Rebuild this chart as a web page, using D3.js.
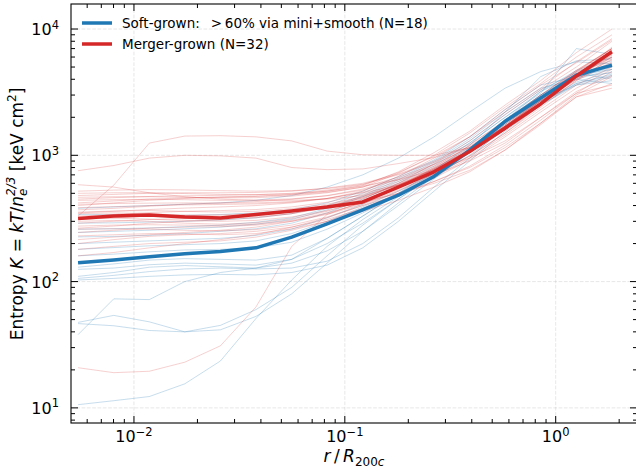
<!DOCTYPE html>
<html>
<head>
<meta charset="utf-8">
<script src="https://cdn.jsdelivr.net/npm/d3@7"></script>
<style>
  html, body { margin: 0; padding: 0; background: #fff; }
  svg { display: block; font-family: "DejaVu Sans", sans-serif; }
</style>
</head>
<body>
<svg id="chart" width="636" height="474"></svg>
<script>
// ---------------- data ----------------
const radius = [0.00543, 0.00802, 0.01183, 0.01742, 0.0257, 0.0379, 0.0560, 0.0824,
                0.1216, 0.1795, 0.2649, 0.3908, 0.5754, 0.849, 1.253, 1.849];

const softProfiles = [
  [10.6, 11.4, 12.3, 15.5, 23.5, 51, 103, 190, 310, 470, 690, 1050, 1700, 2600, 3700, 4300],
  [38, 73, 72, 100, 118, 128, 150, 220, 330, 500, 720, 1100, 1900, 3000, 4300, 5200],
  [47.5, 54, 48, 40, 45, 60, 90, 160, 280, 450, 700, 1050, 1650, 2600, 3800, 4600],
  [46.5, 44.7, 41, 40, 41.5, 53, 80, 140, 250, 420, 680, 1000, 1600, 2500, 3600, 4200],
  [106, 112, 120, 126, 128, 126, 128, 145, 200, 320, 560, 950, 1700, 2700, 4000, 4800],
  [103, 106, 110, 113, 114, 113, 118, 135, 185, 300, 520, 900, 1550, 2500, 3700, 4400],
  [110, 118, 130, 134, 131, 128, 140, 175, 250, 400, 650, 1050, 1800, 3000, 4600, 5600],
  [125, 128, 136, 140, 138, 135, 150, 200, 290, 450, 700, 1100, 1900, 3200, 4700, 6000],
  [130, 138, 148, 152, 150, 148, 162, 220, 330, 500, 760, 1200, 2200, 4200, 5600, 5800],
  [160, 165, 172, 178, 180, 185, 205, 260, 350, 480, 680, 1050, 1750, 2800, 4100, 5000],
  [180, 186, 192, 196, 200, 210, 240, 300, 390, 520, 720, 1100, 1800, 2700, 3600, 3900],
  [200, 205, 210, 215, 220, 232, 260, 320, 410, 560, 780, 1150, 1900, 3000, 4400, 5000],
  [226, 228, 232, 240, 250, 262, 290, 350, 450, 600, 820, 1250, 2000, 3100, 7000, 6300],
  [245, 250, 255, 262, 270, 285, 310, 370, 470, 620, 850, 1250, 2000, 3200, 4300, 4800],
  [260, 262, 266, 272, 280, 295, 320, 380, 480, 640, 880, 1300, 2100, 3300, 4500, 4000],
  [290, 292, 296, 300, 308, 320, 345, 400, 500, 660, 900, 1350, 2200, 3400, 4000, 3700],
  [340, 338, 335, 335, 340, 350, 370, 420, 520, 680, 920, 1400, 2300, 3600, 4200, 4500],
  [380, 390, 400, 410, 420, 440, 480, 560, 700, 950, 1400, 2200, 3400, 4600, 5500, 5300]
];

const mergerProfiles = [
  [160, 170, 185, 200, 215, 235, 270, 320, 400, 480, 620, 820, 1200, 1900, 3100, 4600],
  [180, 190, 200, 205, 210, 225, 255, 300, 380, 500, 680, 950, 1450, 2300, 3600, 5000],
  [200, 215, 228, 235, 240, 250, 270, 310, 380, 490, 660, 920, 1400, 2200, 3400, 4800],
  [215, 225, 235, 245, 255, 270, 300, 345, 420, 560, 800, 1200, 1900, 3000, 4700, 7000],
  [230, 235, 240, 238, 235, 240, 262, 300, 360, 440, 560, 740, 1100, 1800, 3000, 4200],
  [245, 255, 265, 270, 272, 280, 300, 340, 410, 530, 710, 980, 1500, 2400, 3900, 6000],
  [260, 262, 260, 255, 252, 258, 280, 325, 400, 520, 700, 990, 1500, 2500, 4200, 7200],
  [265, 275, 290, 300, 308, 320, 345, 390, 460, 580, 760, 1050, 1600, 2600, 4300, 6800],
  [275, 280, 282, 280, 278, 285, 305, 350, 420, 500, 620, 800, 1150, 1800, 2900, 3700],
  [290, 300, 310, 315, 318, 325, 345, 385, 450, 600, 860, 1300, 2100, 3300, 5000, 8000],
  [300, 305, 300, 290, 285, 292, 315, 360, 440, 560, 740, 1050, 1600, 2600, 4100, 6300],
  [310, 320, 330, 335, 338, 345, 365, 400, 470, 590, 780, 1100, 1700, 2800, 4600, 7000],
  [320, 318, 312, 305, 300, 305, 325, 365, 430, 500, 600, 760, 1100, 1750, 2900, 3400],
  [330, 580, 1250, 1420, 1430, 1400, 1300, 1080, 1010, 1000, 1000, 1150, 1800, 2900, 4600, 7000],
  [330, 340, 352, 360, 365, 372, 390, 425, 490, 600, 790, 1100, 1700, 2750, 4400, 6500],
  [345, 350, 345, 335, 330, 335, 355, 395, 460, 580, 770, 1080, 1650, 2700, 4300, 6600],
  [350, 360, 372, 382, 390, 400, 420, 455, 520, 680, 950, 1400, 2300, 3600, 5400, 8200],
  [355, 362, 365, 360, 355, 360, 378, 410, 470, 585, 770, 1060, 1600, 2600, 4000, 5800],
  [370, 380, 395, 410, 420, 430, 448, 480, 540, 650, 840, 1150, 1750, 2850, 4500, 6800],
  [385, 392, 400, 405, 408, 412, 425, 455, 510, 620, 800, 1100, 1650, 2650, 4200, 6200],
  [400, 420, 440, 455, 465, 472, 485, 510, 560, 720, 1000, 1500, 2400, 3700, 6000, 9000],
  [410, 415, 418, 420, 418, 420, 430, 455, 505, 580, 700, 900, 1250, 2000, 3200, 4300],
  [420, 435, 450, 460, 468, 475, 490, 520, 575, 740, 1050, 1550, 2500, 3900, 6500, 10000],
  [440, 445, 448, 445, 440, 442, 452, 478, 530, 640, 820, 1120, 1700, 2750, 4300, 6000],
  [450, 462, 472, 478, 482, 488, 500, 530, 585, 730, 980, 1400, 2200, 3400, 5500, 8400],
  [465, 470, 470, 465, 460, 462, 475, 505, 560, 670, 850, 1150, 1700, 2700, 4100, 5700],
  [480, 490, 500, 505, 505, 508, 520, 550, 600, 710, 900, 1220, 1850, 3000, 4700, 7000],
  [500, 505, 505, 498, 490, 488, 495, 520, 570, 640, 760, 950, 1300, 2000, 3100, 3600],
  [520, 530, 535, 532, 525, 520, 525, 545, 590, 700, 880, 1180, 1750, 2800, 4400, 6500],
  [585, 560, 505, 470, 450, 440, 440, 450, 480, 580, 780, 1100, 1700, 2600, 4000, 5500],
  [755, 830, 950, 1000, 990, 950, 800, 770, 780, 860, 960, 1150, 1700, 2700, 4200, 6000],
  [20.8, 19, 19.5, 23, 31, 63, 190, 340, 430, 560, 760, 1050, 1600, 2500, 3900, 5400]
];

const softMedian   = [141, 148, 157, 166, 173, 185, 225, 286, 369, 483, 680, 1100, 1860, 2840, 4300, 5180];
const mergerMedian = [316, 331, 337, 325, 319, 340, 362, 390, 427, 560, 740, 1070, 1640, 2550, 4250, 6600];

const seriesLabels = ["Soft-grown: \u2002>\u200960% via mini+smooth (N=18)", "Merger-grown (N=32)"];
const seriesColors = ["#1f77b4", "#d62728"];
const xTickExps = [-2, -1, 0];
const yTickExps = [1, 2, 3, 4];

// ---------------- layout ----------------
const svg = d3.select("#chart");
const L = 71, T = 4, R = 637, B = 423;
const x = d3.scaleLog().domain([0.005028, 2.43]).range([L, R]);
const y = d3.scaleLog().domain([7.59, 15780]).range([B, T]);

const defs = svg.append("defs");
defs.append("clipPath").attr("id", "plotclip")
  .append("rect").attr("x", L).attr("y", T).attr("width", R - L).attr("height", B - T);

// grid
const grid = svg.append("g");
xTickExps.forEach(e => {
  grid.append("line").attr("x1", x(Math.pow(10, e))).attr("x2", x(Math.pow(10, e)))
    .attr("y1", T).attr("y2", B)
    .attr("stroke", "#b0b0b0").attr("stroke-opacity", 0.3).attr("stroke-width", 1)
    .attr("stroke-dasharray", "3.7,1.6");
});
yTickExps.forEach(e => {
  grid.append("line").attr("y1", y(Math.pow(10, e))).attr("y2", y(Math.pow(10, e)))
    .attr("x1", L).attr("x2", R)
    .attr("stroke", "#b0b0b0").attr("stroke-opacity", 0.3).attr("stroke-width", 1)
    .attr("stroke-dasharray", "3.7,1.6");
});

// lines
const line = d3.line().x((d, i) => x(radius[i])).y(d => y(d));
const plot = svg.append("g").attr("clip-path", "url(#plotclip)");
plot.append("g").selectAll("path").data(softProfiles).join("path")
  .attr("d", line).attr("fill", "none").attr("stroke", seriesColors[0])
  .attr("stroke-opacity", 0.25).attr("stroke-width", 1);
plot.append("g").selectAll("path").data(mergerProfiles).join("path")
  .attr("d", line).attr("fill", "none").attr("stroke", seriesColors[1])
  .attr("stroke-opacity", 0.22).attr("stroke-width", 1);
plot.append("path").datum(softMedian).attr("d", line).attr("fill", "none")
  .attr("stroke", seriesColors[0]).attr("stroke-width", 3.5).attr("stroke-linejoin", "round");
plot.append("path").datum(mergerMedian).attr("d", line).attr("fill", "none")
  .attr("stroke", seriesColors[1]).attr("stroke-width", 3.5).attr("stroke-linejoin", "round");

// ticks (inward, all sides)
const ticks = svg.append("g").attr("stroke", "#000").attr("stroke-width", 1);
const xMinor = [], yMinor = [];
[-3, -2, -1, 0].forEach(e => { for (let m = 2; m <= 9; m++) { const v = m * Math.pow(10, e); if (v > x.domain()[0] && v < x.domain()[1]) xMinor.push(v); } });
[0, 1, 2, 3, 4].forEach(e => { for (let m = 2; m <= 9; m++) { const v = m * Math.pow(10, e); if (v > y.domain()[0] && v < y.domain()[1]) yMinor.push(v); } });
xTickExps.forEach(e => {
  const px = x(Math.pow(10, e));
  ticks.append("line").attr("x1", px).attr("x2", px).attr("y1", B).attr("y2", B - 7);
  ticks.append("line").attr("x1", px).attr("x2", px).attr("y1", T).attr("y2", T + 7);
});
xMinor.forEach(v => {
  const px = x(v);
  ticks.append("line").attr("x1", px).attr("x2", px).attr("y1", B).attr("y2", B - 4);
  ticks.append("line").attr("x1", px).attr("x2", px).attr("y1", T).attr("y2", T + 4);
});
yTickExps.forEach(e => {
  const py = y(Math.pow(10, e));
  ticks.append("line").attr("y1", py).attr("y2", py).attr("x1", L).attr("x2", L + 7);
  ticks.append("line").attr("y1", py).attr("y2", py).attr("x1", R).attr("x2", R - 7);
});
yMinor.forEach(v => {
  const py = y(v);
  ticks.append("line").attr("y1", py).attr("y2", py).attr("x1", L).attr("x2", L + 4);
  ticks.append("line").attr("y1", py).attr("y2", py).attr("x1", R).attr("x2", R - 4);
});

// spines
const sp = svg.append("g").attr("stroke", "#000").attr("stroke-width", 1.1).attr("fill", "none");
sp.append("rect").attr("x", L).attr("y", T).attr("width", R - L).attr("height", B - T);

// tick labels
function expLabel(sel, e) {
  sel.append("tspan").text("10");
  sel.append("tspan").attr("font-size", 11.5).attr("dy", -6.5)
    .text(e < 0 ? "\u2212" + Math.abs(e) : String(e));
}
xTickExps.forEach(e => {
  const t = svg.append("text").attr("x", x(Math.pow(10, e))).attr("y", 442)
    .attr("text-anchor", "middle").attr("font-size", 16).attr("fill", "#000");
  expLabel(t, e);
});
yTickExps.forEach(e => {
  const t = svg.append("text").attr("x", 59).attr("y", y(Math.pow(10, e)) + 6)
    .attr("text-anchor", "end").attr("font-size", 16).attr("fill", "#000");
  expLabel(t, e);
});

// axis labels
const xl = svg.append("text").attr("x", (L + R) / 2).attr("y", 462)
  .attr("text-anchor", "middle").attr("font-size", 17).attr("fill", "#000");
xl.append("tspan").attr("font-style", "italic").text("r");
xl.append("tspan").text("\u2009/\u2009");
xl.append("tspan").attr("font-style", "italic").text("R");
xl.append("tspan").attr("font-size", 12).attr("dy", 3.5).text("200");
xl.append("tspan").attr("font-size", 12).attr("font-style", "italic").text("c");

const yl = svg.append("text").attr("transform", "translate(23,214) rotate(-90)")
  .attr("text-anchor", "middle").attr("font-size", 17).attr("fill", "#000");
yl.append("tspan").text("Entropy ");
yl.append("tspan").attr("font-style", "italic").text("K");
yl.append("tspan").text(" = ");
yl.append("tspan").attr("font-style", "italic").text("kT");
yl.append("tspan").text("/");
yl.append("tspan").attr("font-style", "italic").text("n");
yl.append("tspan").attr("font-size", 12).attr("font-style", "italic").attr("dy", 4).text("e");
yl.append("tspan").attr("font-size", 12).attr("font-style", "italic").attr("dx", -7.4).attr("dy", -12).text("2/3");
yl.append("tspan").attr("dy", 8).text(" [keV cm");
yl.append("tspan").attr("font-size", 12).attr("dy", -7).text("2");
yl.append("tspan").attr("dy", 7).text("]");

// legend
const leg = svg.append("g");
seriesLabels.forEach((s, i) => {
  const ly = 23 + i * 21;
  leg.append("line").attr("x1", 82).attr("x2", 112).attr("y1", ly).attr("y2", ly)
    .attr("stroke", seriesColors[i]).attr("stroke-width", 3.5);
  leg.append("text").attr("x", 122).attr("y", ly + 5).attr("font-size", 13.5)
    .attr("fill", "#000").text(s);
});
</script>
</body>
</html>
